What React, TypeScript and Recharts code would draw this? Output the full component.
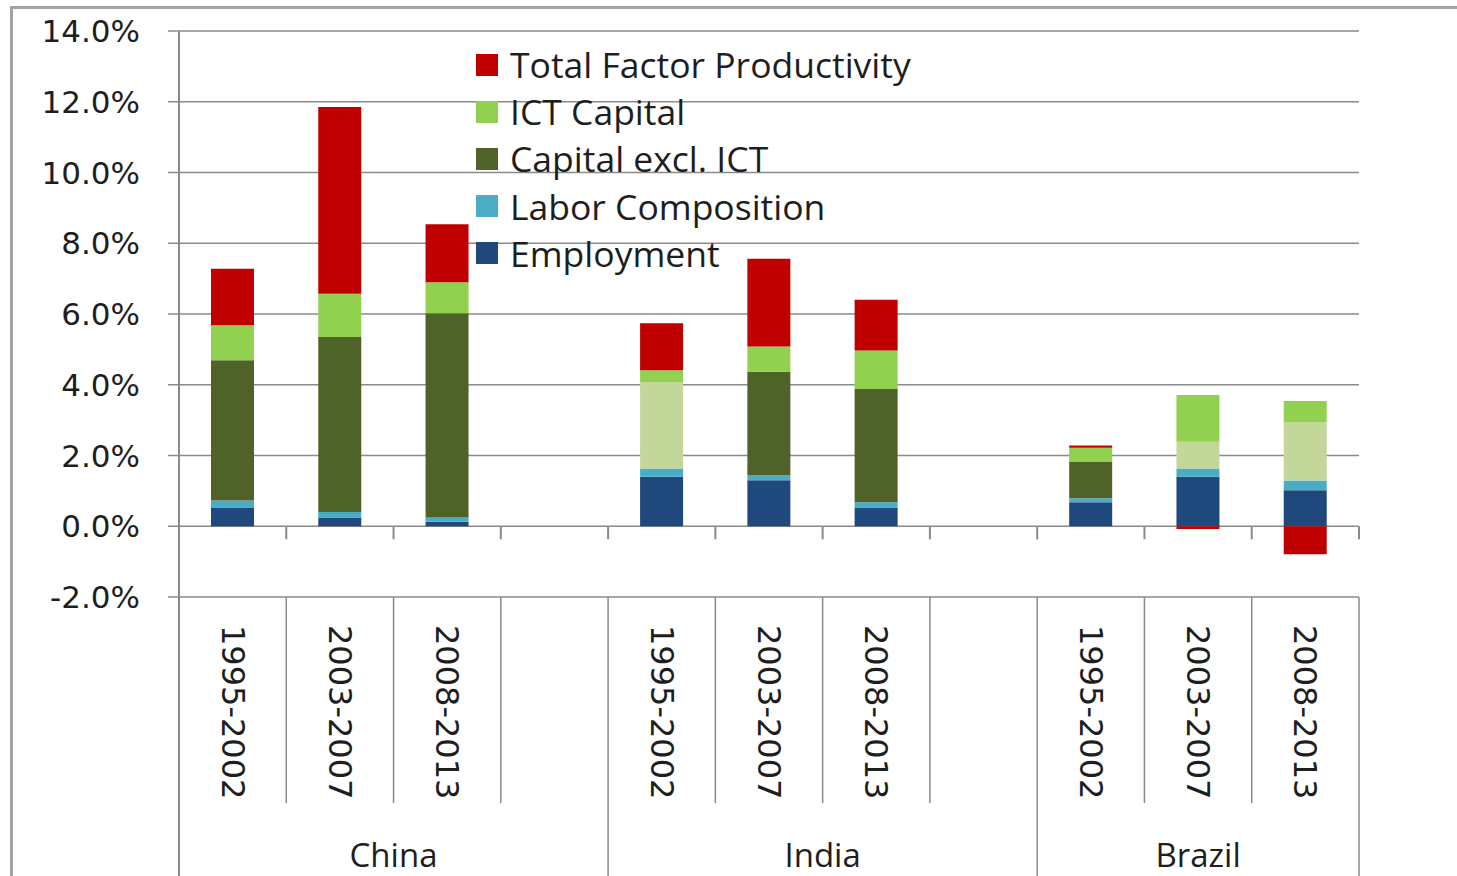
import React from 'react';
import { BarChart, Bar, XAxis, YAxis, CartesianGrid, Legend, Cell } from 'recharts';

const countries = ['China', 'India', 'Brazil'];
const periods = ['1995-2002', '2003-2007', '2008-2013'];

// contributions in percentage points, order: China x3, India x3, Brazil x3
const employment = [0.53, 0.25, 0.13, 1.4, 1.3, 0.53, 0.68, 1.4, 1.02];
const laborComposition = [0.2, 0.15, 0.12, 0.23, 0.15, 0.15, 0.11, 0.23, 0.27];
const capitalExIct = [3.96, 4.95, 5.77, 2.45, 2.92, 3.2, 1.04, 0.76, 1.64];
const ictCapital = [0.99, 1.22, 0.88, 0.33, 0.71, 1.09, 0.39, 1.32, 0.61];
const tfp = [1.6, 5.28, 1.64, 1.33, 2.48, 1.43, 0.06, -0.08, -0.79];

const yTicks = [-2, 0, 2, 4, 6, 8, 10, 12, 14];

const legendOrder = ['Total Factor Productivity', 'ICT Capital', 'Capital excl. ICT', 'Labor Composition', 'Employment'];

// bars where the capital segment is drawn in the light shade
const paleCapital = ['India 1995-2002', 'Brazil 2003-2007', 'Brazil 2008-2013'];

type Row = {
  country: string;
  period: string;
  employment?: number;
  labor?: number;
  capital?: number;
  ict?: number;
  tfp?: number;
};

const rows: Row[] = [];
countries.forEach((c, ci) => {
  periods.forEach((p, pi) => {
    const k = ci * 3 + pi;
    rows.push({
      country: c,
      period: p,
      employment: employment[k],
      labor: laborComposition[k],
      capital: capitalExIct[k],
      ict: ictCapital[k],
      tfp: tfp[k],
    });
  });
  if (ci < countries.length - 1) rows.push({ country: c, period: '' });
});

const W = 1457;
const H = 876;
const LEFT = 179;
const RIGHT = 98;
const TOP = 31;
const XAXIS_H = 279;
const PLOT_W = W - LEFT - RIGHT;
const PLOT_H = H - TOP - XAXIS_H;
const SLOT = PLOT_W / rows.length;
const ZERO_OFF = (PLOT_H * 2) / 16;

const GRID = '#8a8a8a';
const TEXT = '#1e1e1e';

const XTick = (props: any) => {
  const { x, y, index } = props;
  const row = rows[index];
  if (!row) return null;
  const isGroupEnd = index === rows.length - 1 || rows[index + 1].country !== row.country;
  const isGroupStart = index === 0 || rows[index - 1].country !== row.country;
  const groupSize = rows.filter((r) => r.country === row.country).length;
  const right = x + SLOT / 2;
  const left = x - SLOT / 2;
  return (
    <g>
      {index === 0 && <line x1={left} x2={left} y1={y} y2={y + XAXIS_H} stroke={GRID} strokeWidth={2} />}
      <line x1={right} x2={right} y1={y} y2={y + (isGroupEnd ? XAXIS_H : 206)} stroke={GRID} strokeWidth={1.5} />
      <line x1={right} x2={right} y1={y - ZERO_OFF} y2={y - ZERO_OFF + 13} stroke={GRID} strokeWidth={2} />
      {row.period && (
        <text
          x={x}
          y={y + 28}
          transform={`rotate(90 ${x} ${y + 28})`}
          textAnchor="start"
          dominantBaseline="central"
          fill={TEXT}
          fontSize={32}
          fontFamily="DejaVu Sans"
        >
          {row.period}
        </text>
      )}
      {isGroupStart && (
        <text
          x={left + (groupSize * SLOT) / 2}
          y={y + 270}
          textAnchor="middle"
          fill={TEXT}
          fontSize={33}
          fontFamily="Open Sans"
        >
          {row.country}
        </text>
      )}
    </g>
  );
};

const renderLegend = (props: any) => {
  const items = [...(props.payload || [])].sort(
    (a: any, b: any) => legendOrder.indexOf(a.value) - legendOrder.indexOf(b.value)
  );
  return (
    <div style={{ fontFamily: 'Open Sans', fontSize: 35.5, color: TEXT }}>
      {items.map((it: any) => (
        <div key={it.value} style={{ display: 'flex', alignItems: 'center', height: 47.2 }}>
          <span style={{ width: 22, height: 22, background: it.color, marginRight: 12, display: 'inline-block' }} />
          <span style={{ lineHeight: '47px', whiteSpace: 'nowrap' }}>{it.value}</span>
        </div>
      ))}
    </div>
  );
};

export default function App() {
  return (
    <div style={{ position: 'absolute', left: 0, top: 0, width: W, height: H, background: '#fff', overflow: 'hidden' }}>
      <div
        style={{
          position: 'absolute',
          left: 10,
          top: 6,
          width: W,
          height: H,
          borderTop: '3px solid #a3a3a3',
          borderLeft: '3px solid #a3a3a3',
        }}
      />
      <div style={{ position: 'absolute', left: 0, top: 0 }}>
        <BarChart
          width={W}
          height={H}
          data={rows}
          stackOffset="sign"
          margin={{ top: TOP, right: RIGHT, left: 0, bottom: 0 }}
        >
          <CartesianGrid vertical={false} stroke={GRID} strokeWidth={1.5} />
          <XAxis
            dataKey="period"
            interval={0}
            height={XAXIS_H}
            tickLine={false}
            axisLine={false}
            tickSize={0}
            tickMargin={0}
            tick={XTick}
          />
          <YAxis
            type="number"
            domain={[-2, 14]}
            ticks={yTicks}
            width={LEFT}
            allowDataOverflow
            tickFormatter={(v: number) => `${v.toFixed(1)}%`}
            tick={{ fill: TEXT, fontSize: 31, fontFamily: 'DejaVu Sans' }}
            tickSize={11}
            tickMargin={28}
            axisLine={{ stroke: GRID, strokeWidth: 2 }}
            tickLine={{ stroke: GRID, strokeWidth: 1.5 }}
          />
          <Legend
            content={renderLegend}
            layout="horizontal"
            verticalAlign="middle"
            align="center"
            wrapperStyle={{ left: 476, top: 41, width: 'auto', height: 'auto' }}
          />
          <Bar dataKey="employment" name="Employment" stackId="a" fill="#1F497D" barSize={43} isAnimationActive={false} />
          <Bar dataKey="labor" name="Labor Composition" stackId="a" fill="#4BACC6" barSize={43} isAnimationActive={false} />
          <Bar dataKey="capital" name="Capital excl. ICT" stackId="a" fill="#4F6228" barSize={43} isAnimationActive={false}>
            {rows.map((r, i) => (
              <Cell key={i} fill={paleCapital.includes(`${r.country} ${r.period}`) ? '#C4D79B' : '#4F6228'} />
            ))}
          </Bar>
          <Bar dataKey="ict" name="ICT Capital" stackId="a" fill="#92D050" barSize={43} isAnimationActive={false} />
          <Bar dataKey="tfp" name="Total Factor Productivity" stackId="a" fill="#C00000" barSize={43} isAnimationActive={false} />
        </BarChart>
      </div>
    </div>
  );
}
